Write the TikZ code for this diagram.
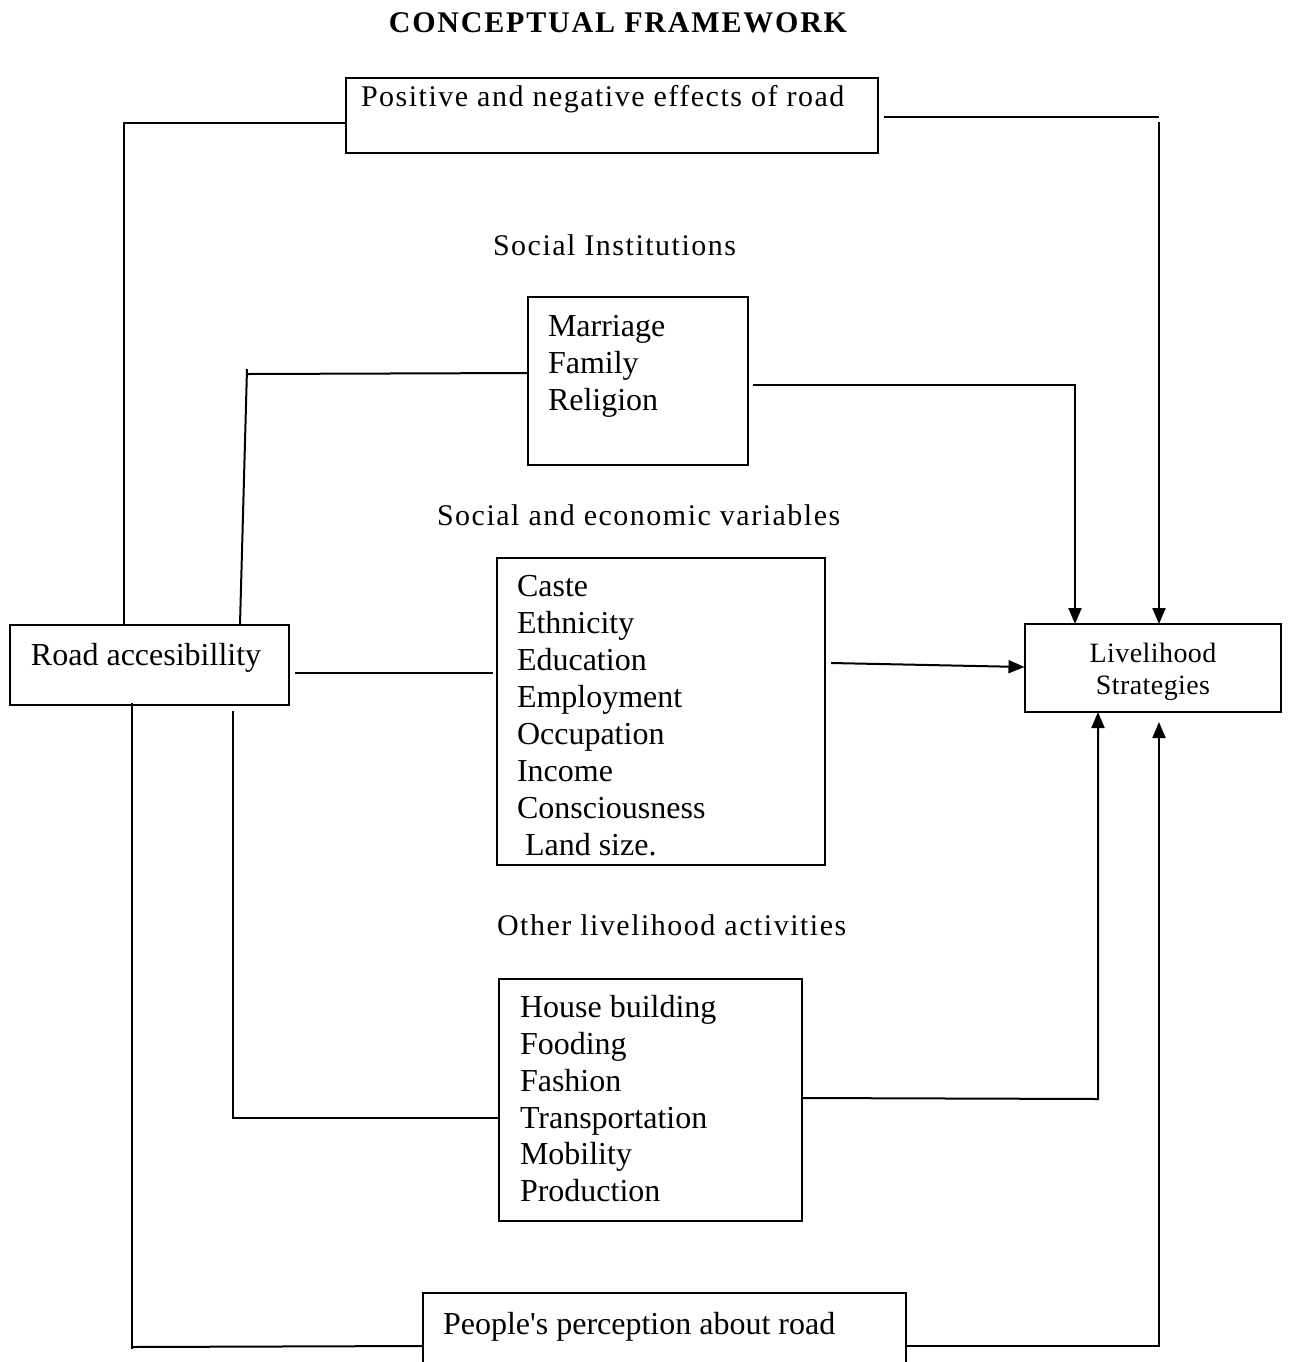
\documentclass[tikz,border=0pt]{standalone}
\usepackage{fontspec}
\setmainfont{Liberation Serif}
\newfontfamily\headfont[LetterSpace=5]{Liberation Serif}
\newfontfamily\titlefont[LetterSpace=6]{Liberation Serif}
\newfontfamily\livefont[LetterSpace=1.5]{Liberation Serif}
\usetikzlibrary{arrows.meta}
\tikzset{
  box/.style={draw, line width=1pt, inner sep=0pt, outer sep=0pt, anchor=north west},
  txt/.style={inner sep=0pt, outer sep=0pt, anchor=base west},
  body/.style={txt, font=\fontsize{16pt}{18.45pt}\selectfont},
  head/.style={txt, font=\headfont\fontsize{15pt}{17pt}\selectfont},
  conn/.style={line width=1pt},
  arr/.style={line width=1pt, -{Triangle[length=8pt,width=6.5pt]}}
}
\begin{document}
\begin{tikzpicture}[x=0.5pt,y=-0.5pt]
\useasboundingbox (0,0) rectangle (1290,1362);
\clip (0,0) rectangle (1290,1362);
% title
\node[inner sep=0pt, anchor=base, font=\titlefont\bfseries\fontsize{15pt}{17pt}\selectfont] (title) at (618,32) {CONCEPTUAL FRAMEWORK};
% boxes
\node[box, minimum width=266pt, minimum height=37.5pt] (eff) at (346,77.5) {};
\node[box, minimum width=110pt, minimum height=84pt] (mar) at (528,297) {};
\node[box, minimum width=164.25pt, minimum height=153.5pt] (soc) at (496.5,557.5) {};
\node[box, minimum width=151.5pt, minimum height=121pt] (oth) at (499,979) {};
\node[box, minimum width=139.5pt, minimum height=40pt] (road) at (10,624.5) {};
\node[box, minimum width=128.25pt, minimum height=44pt] (live) at (1024.5,624) {};
\node[box, minimum width=241.5pt, minimum height=50pt] (ppl) at (423,1293) {};
% texts
\node[head] (efftext) at (361,106) {Positive and negative effects of road};
\node[head] (h1) at (493,255) {Social Institutions};
\node[body] (martext) at (548,336.7) {\begin{tabular}[t]{@{}l@{}}Marriage\\Family\\Religion\end{tabular}};
\node[head] (h2) at (437,525) {Social and economic variables};
\node[body] (soctext) at (517,596.7) {\begin{tabular}[t]{@{}l@{}}Caste\\Ethnicity\\Education\\Employment\\Occupation\\Income\\Consciousness\\\hspace{0.25em}Land size.\end{tabular}};
\node[head] (h3) at (497,935) {Other livelihood activities};
\node[body] (othtext) at (520,1017.3) {\begin{tabular}[t]{@{}l@{}}House building\\Fooding\\Fashion\\Transportation\\Mobility\\Production\end{tabular}};
\node[body] (roadtext) at (31,665) {Road accesibillity};
\node[inner sep=0pt, anchor=base, font=\livefont\fontsize{14pt}{16pt}\selectfont] (livetext) at (1153,662) {\begin{tabular}[t]{@{}c@{}}Livelihood\\Strategies\end{tabular}};
\node[body] (ppltext) at (443,1334) {People\textquotesingle s perception about road};
% connectors on the left
\coordinate (a1) at (124,123);
\draw[conn] (eff.west |- a1) -- (a1) -- (road.north -| a1);
\coordinate (b0) at (240,600);
\coordinate (b1) at (247,369);
\coordinate (b2) at (247,374);
\draw[conn] (road.north -| b0) -- (b1);
\draw[conn] (b2) -- (mar.west |- 0,373);
\coordinate (c1) at (0,672.5);
\draw[conn] ([xshift=3pt]road.east |- c1) -- ([xshift=-2pt]soc.west |- c1);
\coordinate (d1) at (132,1349);
\coordinate (d2) at (132,1347);
\draw[conn] ([yshift=1pt]road.south -| d1) -- (d1);
\draw[conn] (d2) -- (ppl.west |- 0,1346);
\coordinate (e1) at (233,1117.5);
\draw[conn] ([yshift=-3.25pt]road.south -| e1) -- (e1) -- (oth.west |- e1);
% connectors on the right
\coordinate (f1) at (1159,117);
\coordinate (f2) at (1159,122);
\draw[conn] ([xshift=3pt]eff.east |- f1) -- (f1);
\draw[arr] (f2) -- (live.north -| f2);
\coordinate (g1) at (1075,385);
\draw[arr] ([xshift=2.5pt]mar.east |- g1) -- (g1) -- (live.north -| g1);
\coordinate (h0) at (0,663);
\coordinate (h1) at (0,667);
\draw[arr] ([xshift=3pt]soc.east |- h0) -- (live.west |- h1);
\coordinate (k0) at (0,1098);
\coordinate (k1) at (1098,1099);
\draw[arr] (oth.east |- k0) -- (k1) -- (live.south -| k1);
\coordinate (m1) at (1159,1345.5);
\draw[arr] (ppl.east |- m1) -- (m1) -- ([yshift=-5pt]live.south -| m1);
\end{tikzpicture}
\end{document}
